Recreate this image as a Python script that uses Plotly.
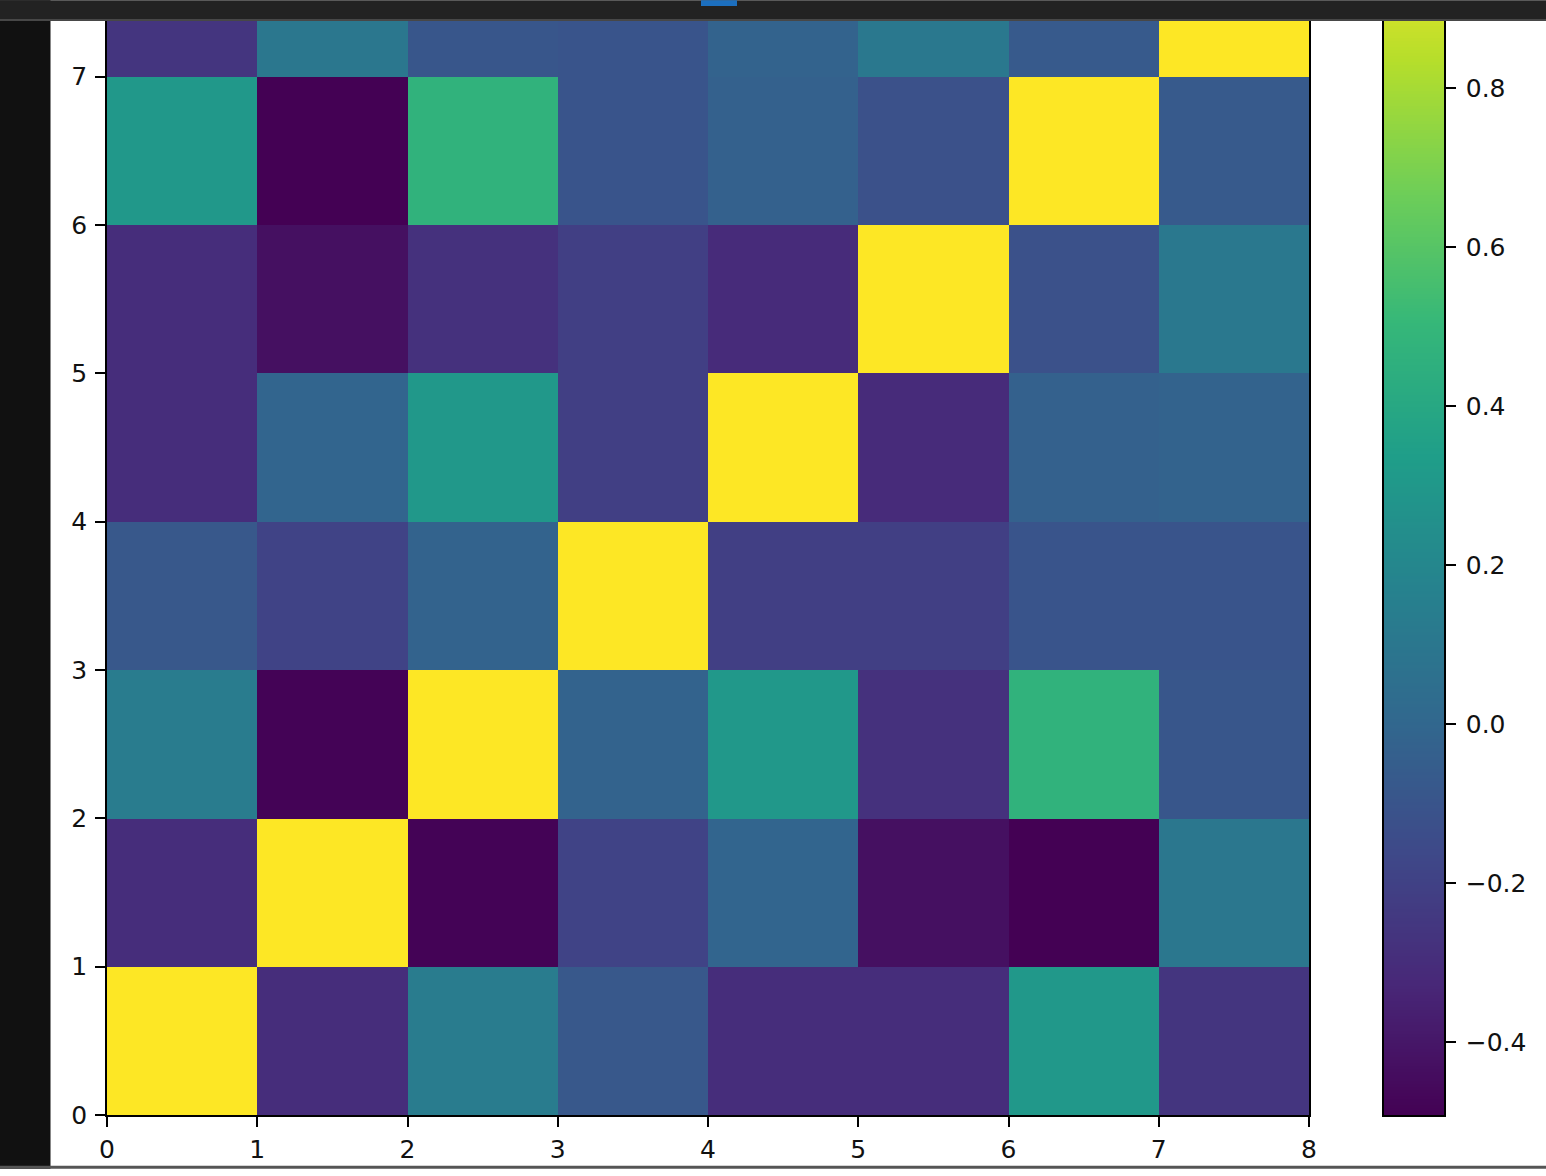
import numpy as np
import plotly.graph_objects as go

# ---- data: 8x8 symmetric correlation matrix (rows = y 0..7, cols = x 0..7) ----
n_vars = 8
upper_pairs = {
    (0, 1): -0.30, (0, 2): 0.13, (0, 3): -0.08, (0, 4): -0.30, (0, 5): -0.30, (0, 6): 0.30, (0, 7): -0.26,
    (1, 2): -0.485, (1, 3): -0.19, (1, 4): -0.01, (1, 5): -0.43, (1, 6): -0.492, (1, 7): 0.10,
    (2, 3): -0.02, (2, 4): 0.30, (2, 5): -0.28, (2, 6): 0.47, (2, 7): -0.09,
    (3, 4): -0.21, (3, 5): -0.21, (3, 6): -0.10, (3, 7): -0.10,
    (4, 5): -0.31, (4, 6): -0.03, (4, 7): -0.02,
    (5, 6): -0.12, (5, 7): 0.11,
    (6, 7): -0.07,
}
diag_value = 1.0
x_ticks = [0, 1, 2, 3, 4, 5, 6, 7, 8]
y_ticks = [0, 1, 2, 3, 4, 5, 6, 7]
cbar_tickvals = [-0.4, -0.2, 0.0, 0.2, 0.4, 0.6, 0.8]
cbar_ticktext = ["\u22120.4", "\u22120.2", "0.0", "0.2", "0.4", "0.6", "0.8"]

corr = np.full((n_vars, n_vars), diag_value)
for (i, j), v in upper_pairs.items():
    corr[i, j] = v
    corr[j, i] = v
zmin, zmax = float(corr.min()), float(corr.max())

# ---- layout geometry (pixels) ----
W, H = 1546, 1176
L, R, T, B = 107, 102, 20, 54
PW, PH = W - L - R, H - T - B
main_right = 1309
cb_left = 1384
y_top_value = 7.382
cb_top_value = 0.886

def px(xp):
    return (xp - L) / PW

def py(yp):
    return (H - B - yp) / PH

fig = go.Figure()
fig.add_trace(go.Heatmap(
    z=corr, x=list(range(n_vars + 1)), y=list(range(n_vars + 1)),
    colorscale="Viridis", zmin=zmin, zmax=zmax, showscale=False,
    xaxis="x", yaxis="y", hoverinfo="z",
))
# colour bar drawn as a colour ramp on its own axes (cropped at the top like the reference)
ramp = np.linspace(zmin, zmax, 400)
fig.add_trace(go.Heatmap(
    z=ramp.reshape(-1, 1), x=[0], y=ramp,
    colorscale="Viridis", zmin=zmin, zmax=zmax, showscale=False,
    xaxis="x2", yaxis="y2", hoverinfo="skip",
))

font = dict(family="DejaVu Sans", size=25, color="#111111")
ax_common = dict(showgrid=False, zeroline=False, showline=True, linecolor="black",
                 linewidth=1.5, mirror=True, ticks="outside", ticklen=10,
                 tickwidth=1.5, tickcolor="black", tickfont=font)

fig.update_layout(
    width=W, height=H, autosize=False, margin=dict(l=L, r=R, t=T, b=B, pad=0),
    paper_bgcolor="white", plot_bgcolor="white", showlegend=False,
    xaxis=dict(domain=[0, px(main_right)], range=[0, 8], tickvals=x_ticks,
               anchor="y", ticklabelstandoff=1, **ax_common),
    yaxis=dict(domain=[0, 1], range=[0, y_top_value], tickvals=y_ticks,
               anchor="x", ticklabelstandoff=3, **ax_common),
    xaxis2=dict(domain=[px(cb_left), 1], range=[-0.5, 0.5], anchor="y2",
                showgrid=False, zeroline=False, showline=True, linecolor="black",
                linewidth=1.5, mirror=True, ticks="", showticklabels=False),
    yaxis2=dict(domain=[0, 1], range=[zmin, cb_top_value], anchor="x2", side="right",
                tickvals=cbar_tickvals, ticktext=cbar_ticktext, ticklabelstandoff=5,
                **ax_common),
)

# dark window frame around the screenshot
shapes = [
    dict(x0=px(0), x1=px(50.5), y0=py(H), y1=py(0), color="#111111"),
    dict(x0=px(0), x1=px(W), y0=py(19), y1=py(0), color="#222222"),
    dict(x0=px(0), x1=px(W), y0=py(21), y1=py(19), color="#474747"),
    dict(x0=px(0), x1=px(W), y0=py(H), y1=py(1173), color="#555555"),
    dict(x0=px(701), x1=px(737), y0=py(6), y1=py(0), color="#1c6fbf"),
]
for s in shapes:
    fig.add_shape(type="rect", xref="paper", yref="paper", x0=s["x0"], x1=s["x1"],
                  y0=s["y0"], y1=s["y1"], fillcolor=s["color"], line=dict(width=0),
                  layer="above")

fig.write_html(
    "out.html",
    config={"responsive": False, "displayModeBar": False},
    post_script="document.body.style.margin='0';document.body.style.overflow='hidden';",
)
